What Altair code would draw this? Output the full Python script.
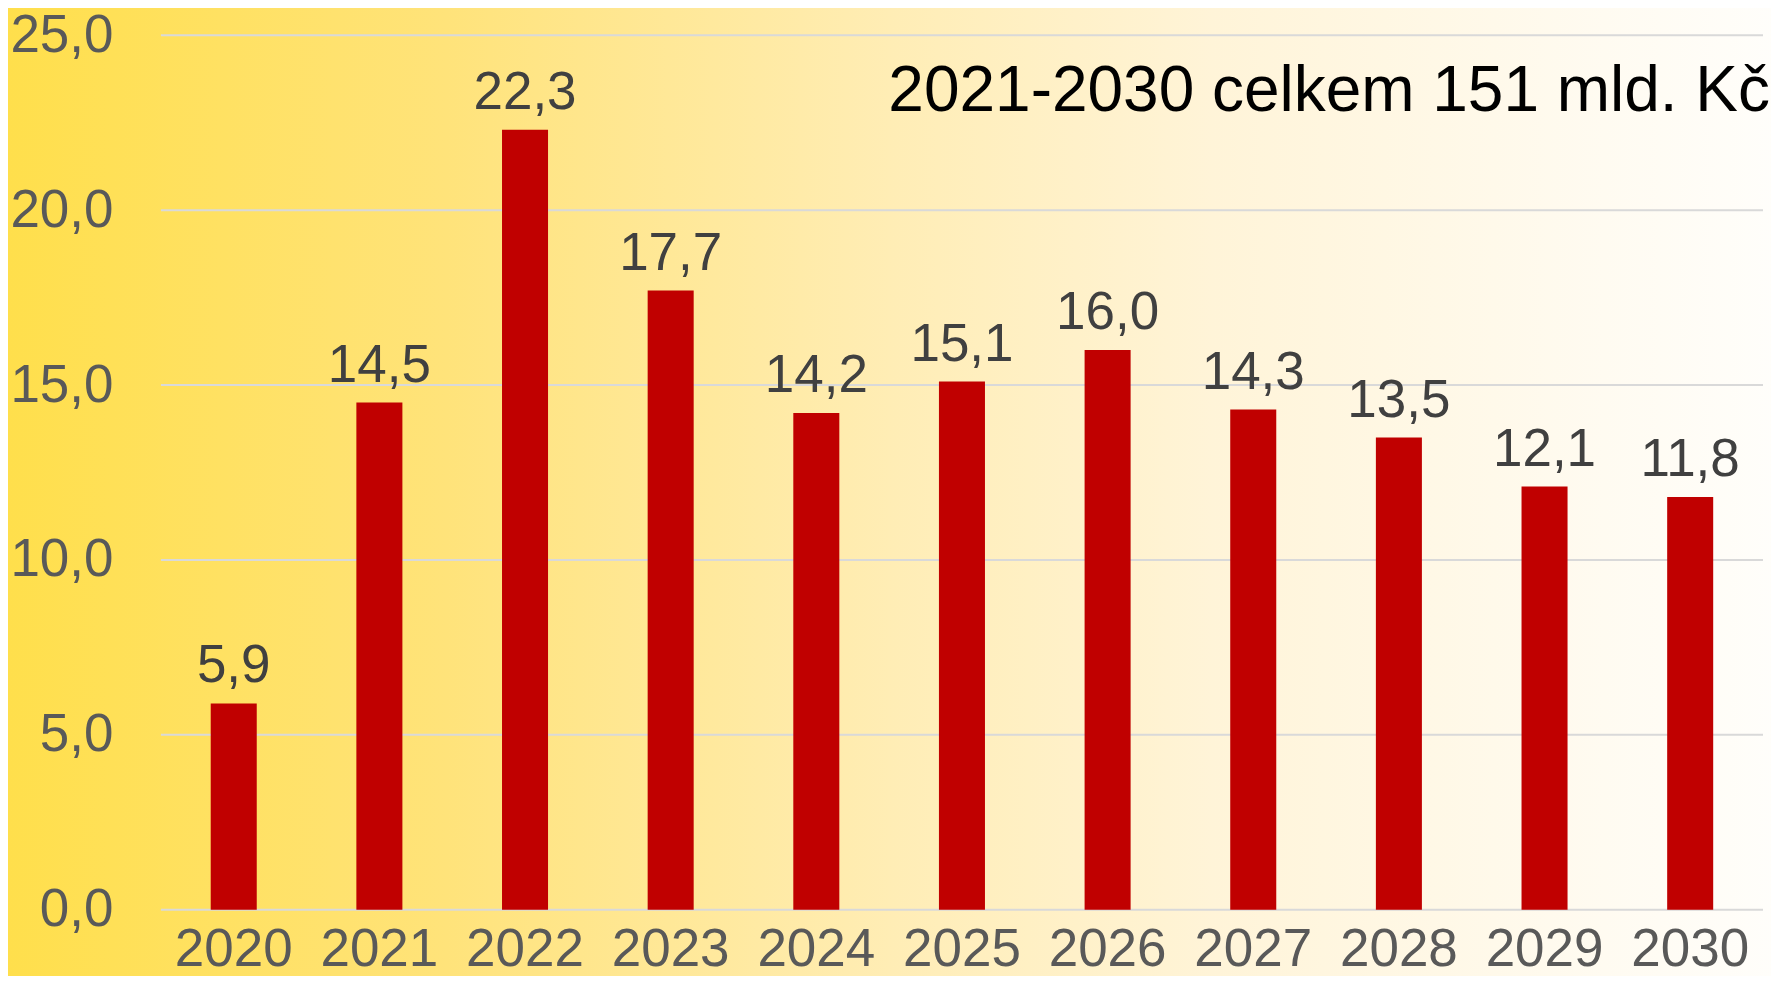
import altair as alt
import pandas as pd

years = ["2020", "2021", "2022", "2023", "2024", "2025", "2026", "2027", "2028", "2029", "2030"]
values = [5.9, 14.5, 22.3, 17.7, 14.2, 15.1, 16.0, 14.3, 13.5, 12.1, 11.8]
grid_values = [0, 5, 10, 15, 20, 25]
annotation = "2021-2030 celkem 151 mld. Kč"

FONT = "Liberation Sans"
W, H = 1603, 875

df = pd.DataFrame({"year": years, "value": values})
grid_df = pd.DataFrame({"g": grid_values})
note_df = pd.DataFrame({"t": [annotation]})

xscale = alt.Scale(domain=years, paddingInner=0.684, paddingOuter=0.342)
yscale = alt.Scale(domain=[0, 25], nice=False, zero=True)

gradient = alt.Gradient(
    gradient="linear",
    x1=0, x2=1, y1=0, y2=0,
    stops=[
        alt.GradientStop(color="#FFDF4B", offset=0),
        alt.GradientStop(color="#FFE37A", offset=0.25),
        alt.GradientStop(color="#FFEDB5", offset=0.5),
        alt.GradientStop(color="#FFF4D8", offset=0.68),
        alt.GradientStop(color="#FFFBF1", offset=0.9),
        alt.GradientStop(color="#FFFEFB", offset=1),
    ],
)

bg = alt.Chart(note_df).mark_rect(fill=gradient, clip=False).encode(
    x=alt.value(-160), x2=alt.value(W + 20),
    y=alt.value(-40), y2=alt.value(H + 120),
)

grid = alt.Chart(grid_df).mark_rule(color="#D9D9D9", strokeWidth=2).encode(
    y=alt.Y("g:Q", scale=yscale),
    x=alt.value(0), x2=alt.value(W),
)

bars = alt.Chart(df).mark_bar(color="#C00000").encode(
    x=alt.X("year:O", scale=xscale, sort=years,
            axis=alt.Axis(title=None, labelAngle=0, labelFontSize=53, labelColor="#595959",
                          labelFont=FONT, ticks=False, tickSize=0, domain=False,
                          labelPadding=14, grid=False, zindex=1)),
    y=alt.Y("value:Q", scale=yscale,
            axis=alt.Axis(title=None, values=grid_values, labelFontSize=53, labelColor="#595959",
                          labelFont=FONT, ticks=False, tickSize=0, domain=False,
                          labelPadding=48, grid=False, zindex=1,
                          labelExpr="replace(format(datum.value, '.1f'), '.', ',')")),
)

labels = alt.Chart(df).transform_calculate(
    lab="replace(format(datum.value, '.1f'), '.', ',')"
).mark_text(fontSize=53, font=FONT, color="#404040", baseline="alphabetic", dy=-21).encode(
    x=alt.X("year:O", scale=xscale, sort=years),
    y=alt.Y("value:Q", scale=yscale),
    text="lab:N",
)

note = alt.Chart(note_df).mark_text(fontSize=64, font=FONT, color="#000000",
                                    align="right", baseline="alphabetic").encode(
    x=alt.value(1610), y=alt.value(76), text="t:N",
)

chart = alt.layer(bg, grid, bars, labels, note).properties(
    width=W, height=H,
    autosize=alt.AutoSizeParams(type="none"),
    padding={"left": 153, "top": 27, "right": 8, "bottom": 66},
).configure_view(stroke=None)

chart.save("out.html", embed_options={"renderer": "svg", "actions": False})
